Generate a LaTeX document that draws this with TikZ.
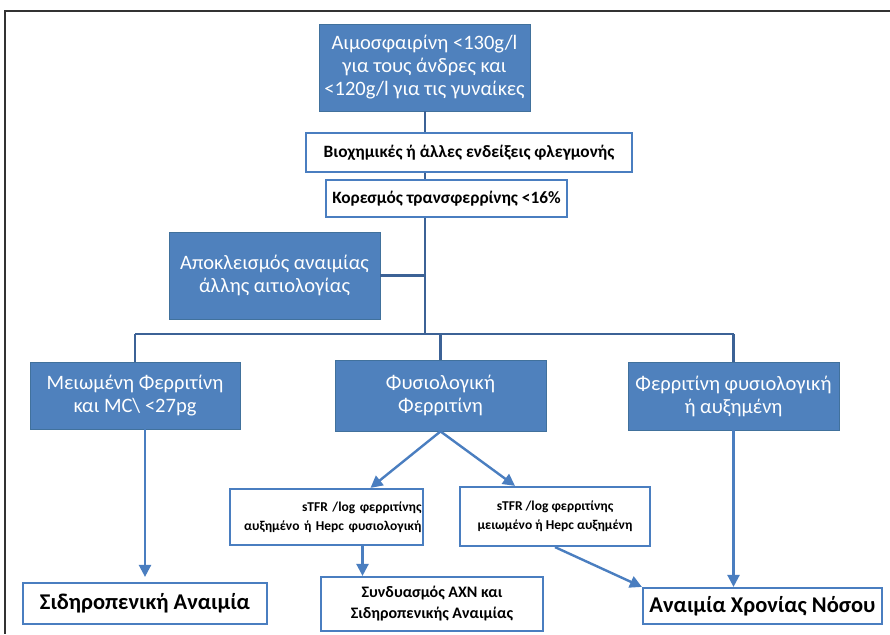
\documentclass[tikz,border=0pt]{standalone}
\usepackage{fontspec}
\setmainfont{Carlito}
\usetikzlibrary{arrows.meta,calc}
\definecolor{boxblue}{HTML}{4F81BD}
\definecolor{boxedge}{HTML}{41719C}
\definecolor{treeblue}{HTML}{3C6296}
\definecolor{arrowblue}{HTML}{4A7EC0}
\definecolor{frameblk}{HTML}{333333}
\tikzset{
  bluebox/.style={draw=boxedge, line width=0.8pt, fill=boxblue, text=white, inner sep=0pt, align=center,
     font=\fontsize{20.5}{23}\selectfont},
  whitebox/.style={draw=arrowblue, line width=2.2pt, fill=white, text=black, inner sep=0pt, align=center,
     font=\bfseries\fontsize{17.3}{20}\selectfont},
  treeline/.style={draw=treeblue, line width=2.4pt},
  arr/.style={draw=arrowblue, line width=2.4pt, -{Triangle[length=12pt,width=12pt]}},
}
\begin{document}
\begin{tikzpicture}[x=1pt,y=-1pt]
\useasboundingbox (0,0) rectangle (890,634);
\fill[white] (0,0) rectangle (890,634);
\draw[frameblk, line width=1.6pt] (890,11) -- (5,11) -- (5,634);

% nodes
\node[bluebox, minimum width=211pt, minimum height=87pt] (A) at (424.5,67.5)
  {Αιμοσφαιρίνη <130g/l\\για τους άνδρες και\\<120g/l για τις γυναίκες};
\node[whitebox, minimum width=326pt, minimum height=39pt] (B) at (469,152.5)
  {Βιοχημικές ή άλλες ενδείξεις φλεγμονής};
\node[whitebox, minimum width=241pt, minimum height=37pt] (C) at (446.5,198.5)
  {Κορεσμός τρανσφερρίνης <16\%};
\node[bluebox, minimum width=211pt, minimum height=87pt] (D) at (274.5,275.5)
  {Αποκλεισμός αναιμίας\\άλλης αιτιολογίας};
\node[bluebox, minimum width=210pt, minimum height=67pt] (E) at (135,395.5)
  {Μειωμένη Φερριτίνη\\και MC\textbackslash{} <27pg};
\node[bluebox, minimum width=211pt, minimum height=71pt] (F) at (440.5,395.5)
  {Φυσιολογική\\Φερριτίνη};
\node[bluebox, minimum width=211pt, minimum height=68pt] (G) at (733.5,396)
  {Φερριτίνη φυσιολογική\\ή αυξημένη};
\node[whitebox, minimum width=193pt, minimum height=56pt, text width=190pt, align=right,
      font=\bfseries\fontsize{13.5}{19}\selectfont] (H) at (326.5,517)
  {sTFR /log φερριτίνης\\αυξημένο ή Hepc φυσιολογική};
\node[whitebox, minimum width=190pt, minimum height=59pt,
      font=\bfseries\fontsize{13.5}{19}\selectfont] (I) at (555,516.5)
  {sTFR /log φερριτίνης\\μειωμένο ή Hepc αυξημένη};
\node[whitebox, minimum width=244pt, minimum height=41pt,
      font=\bfseries\fontsize{22.5}{24}\selectfont] (J) at (145,603.5)
  {Σιδηροπενική Αναιμία};
\node[whitebox, minimum width=222pt, minimum height=54pt,
      font=\bfseries\fontsize{16}{21}\selectfont] (K) at (432,604)
  {Συνδυασμός ΑΧΝ και\\Σιδηροπενικής Αναιμίας};
\node[whitebox, minimum width=239pt, minimum height=36pt,
      font=\bfseries\fontsize{22.5}{24}\selectfont] (L) at (762.5,606)
  {Αναιμία Χρονίας Νόσου};

% tree connectors
\coordinate (hub) at (425,334);
\coordinate (hl) at (E.north |- hub);
\coordinate (hr) at (G.north |- hub);
\draw[treeline] (A.south -| hub) -- (B.north -| hub);
\draw[treeline] (B.south -| hub) -- (C.north -| hub);
\draw[treeline] (C.south -| hub) -- (hub);
\draw[treeline] (D.east) -- (D.east -| hub);
\draw[treeline] (hl) -- (hr);
\draw[treeline] (hl) -- (E.north);
\draw[treeline] (hr) -- (G.north);
\draw[treeline] (F.north |- hub) -- (F.north);

% arrows
\coordinate (Hout) at ($(H.south)+(36,0)$);
\coordinate (Kin) at (Hout |- K.north);
\draw[arr, shorten >=5pt] (J.north |- E.south) -- (J.north);
\draw[arr] (F.south) -- ($(H.north)+(44,0)$);
\draw[arr] (F.south) -- ($(I.north)+(-40,0)$);
\draw[arr] (Hout) -- (Kin);
\draw[arr] (I.south) -- (L.north west);
\draw[arr] (G.south) -- (G.south |- L.north);
\end{tikzpicture}
\end{document}
